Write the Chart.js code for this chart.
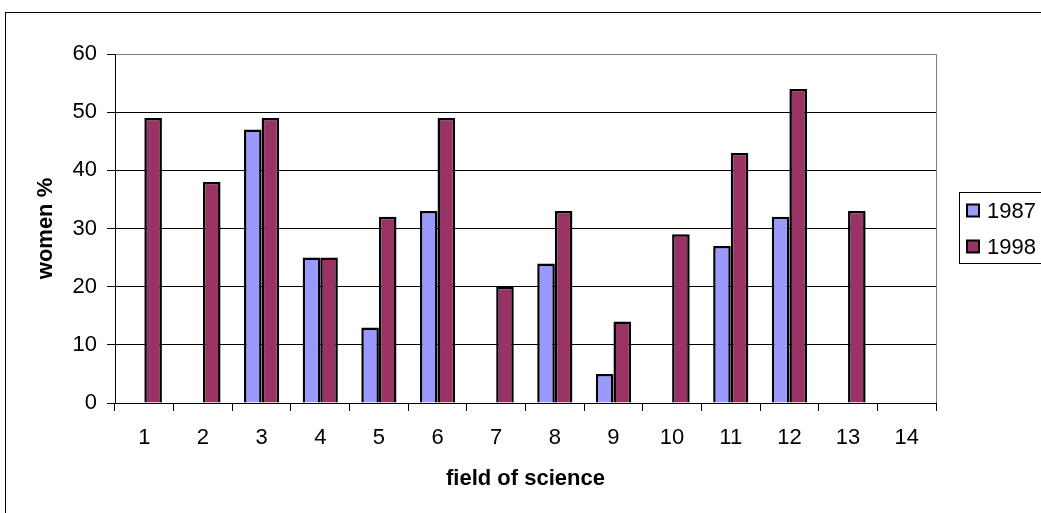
<!DOCTYPE html>
<html>
<head>
<meta charset="utf-8">
<script src="https://cdn.jsdelivr.net/npm/chart.js@4/dist/chart.umd.min.js"></script>
<style>
  html, body { margin: 0; padding: 0; background: #ffffff; }
  #wrap { width: 1041px; height: 513px; }
</style>
</head>
<body>
<div id="wrap"><canvas id="c" width="1041" height="513"></canvas></div>
<script>
// Share of women by field of science, 1987 vs 1998
const fields = ['1', '2', '3', '4', '5', '6', '7', '8', '9', '10', '11', '12', '13', '14'];
const women1987 = [null, null, 47, 25, 13, 33, null, 24, 5, null, 27, 32, null, null];
const women1998 = [49, 38, 49, 25, 32, 49, 20, 33, 14, 29, 43, 54, 33, null];
const seriesNames = ['1987', '1998'];
const yTicks = [0, 10, 20, 30, 40, 50, 60];

const FONT = '"Liberation Sans", Arial, sans-serif';
const colors = ['#9999FF', '#993366'];

// Frame around the whole chart, gray right plot edge and the boxed legend
const decorations = {
  id: 'decorations',
  afterDraw(chart) {
    const ctx = chart.ctx;
    const a = chart.chartArea;
    ctx.save();
    // outer frame
    ctx.strokeStyle = '#000000';
    ctx.lineWidth = 1;
    ctx.strokeRect(5.5, 12.5, 2000, 2000);
    // right edge of plot area
    ctx.strokeStyle = '#808080';
    ctx.beginPath();
    ctx.moveTo(Math.round(a.right) + 0.5, a.top);
    ctx.lineTo(Math.round(a.right) + 0.5, a.bottom);
    ctx.stroke();
    // legend
    const lx = 959.5, ly = 192.5, lw = 90, lh = 71;
    ctx.fillStyle = '#ffffff';
    ctx.fillRect(lx, ly, lw, lh);
    ctx.strokeStyle = '#000000';
    ctx.lineWidth = 1;
    ctx.strokeRect(lx, ly, lw, lh);
    ctx.font = '22px ' + FONT;
    ctx.textBaseline = 'middle';
    ctx.textAlign = 'left';
    chart.data.datasets.forEach((ds, i) => {
      const cy = 210.5 + i * 36;
      ctx.fillStyle = ds.backgroundColor;
      ctx.fillRect(967, cy - 6, 12, 12);
      ctx.lineWidth = 2;
      ctx.strokeStyle = '#000000';
      ctx.strokeRect(967, cy - 6, 12, 12);
      ctx.fillStyle = '#000000';
      ctx.fillText(ds.label, 987, cy + 1);
    });
    ctx.restore();
  }
};

new Chart(document.getElementById('c'), {
  type: 'bar',
  data: {
    labels: fields,
    datasets: [
      { label: seriesNames[0], data: women1987, backgroundColor: colors[0], borderColor: '#000000', borderWidth: 2.5 },
      { label: seriesNames[1], data: women1998, backgroundColor: colors[1], borderColor: '#000000', borderWidth: 2.5 }
    ]
  },
  options: {
    responsive: false,
    animation: false,
    devicePixelRatio: 1,
    layout: { padding: { top: 54, right: 105, left: 0, bottom: 0 } },
    datasets: { bar: { categoryPercentage: 0.6, barPercentage: 1.0 } },
    plugins: { legend: { display: false }, tooltip: { enabled: false } },
    scales: {
      x: {
        afterFit(scale) { scale.height = 110; },
        grid: { offset: true, drawOnChartArea: false, drawTicks: true, tickLength: 8, color: '#000000' },
        border: { color: '#000000', width: 1 },
        ticks: { color: '#000000', font: { family: FONT, size: 22 }, padding: 14, maxRotation: 0 },
        title: { display: true, text: 'field of science', color: '#000000',
                 font: { family: FONT, size: 22, weight: 'bold' }, padding: { top: 0, bottom: 21 } }
      },
      y: {
        min: 0, max: 60,
        afterFit(scale) { scale.width = 115; },
        afterBuildTicks(scale) { scale.ticks = yTicks.map(v => ({ value: v })); },
        grid: {
          color: ctx => (ctx.tick && ctx.tick.value === 60 ? '#808080' : '#000000'),
          tickColor: '#000000', tickLength: 8, lineWidth: 1
        },
        border: { color: '#000000', width: 1 },
        ticks: { color: '#000000', font: { family: FONT, size: 22 }, padding: 10 },
        title: { display: true, text: 'women %', color: '#000000',
                 font: { family: FONT, size: 22, weight: 'bold' }, padding: { top: 33, bottom: 0 } }
      }
    }
  },
  plugins: [decorations]
});
</script>
</body>
</html>
